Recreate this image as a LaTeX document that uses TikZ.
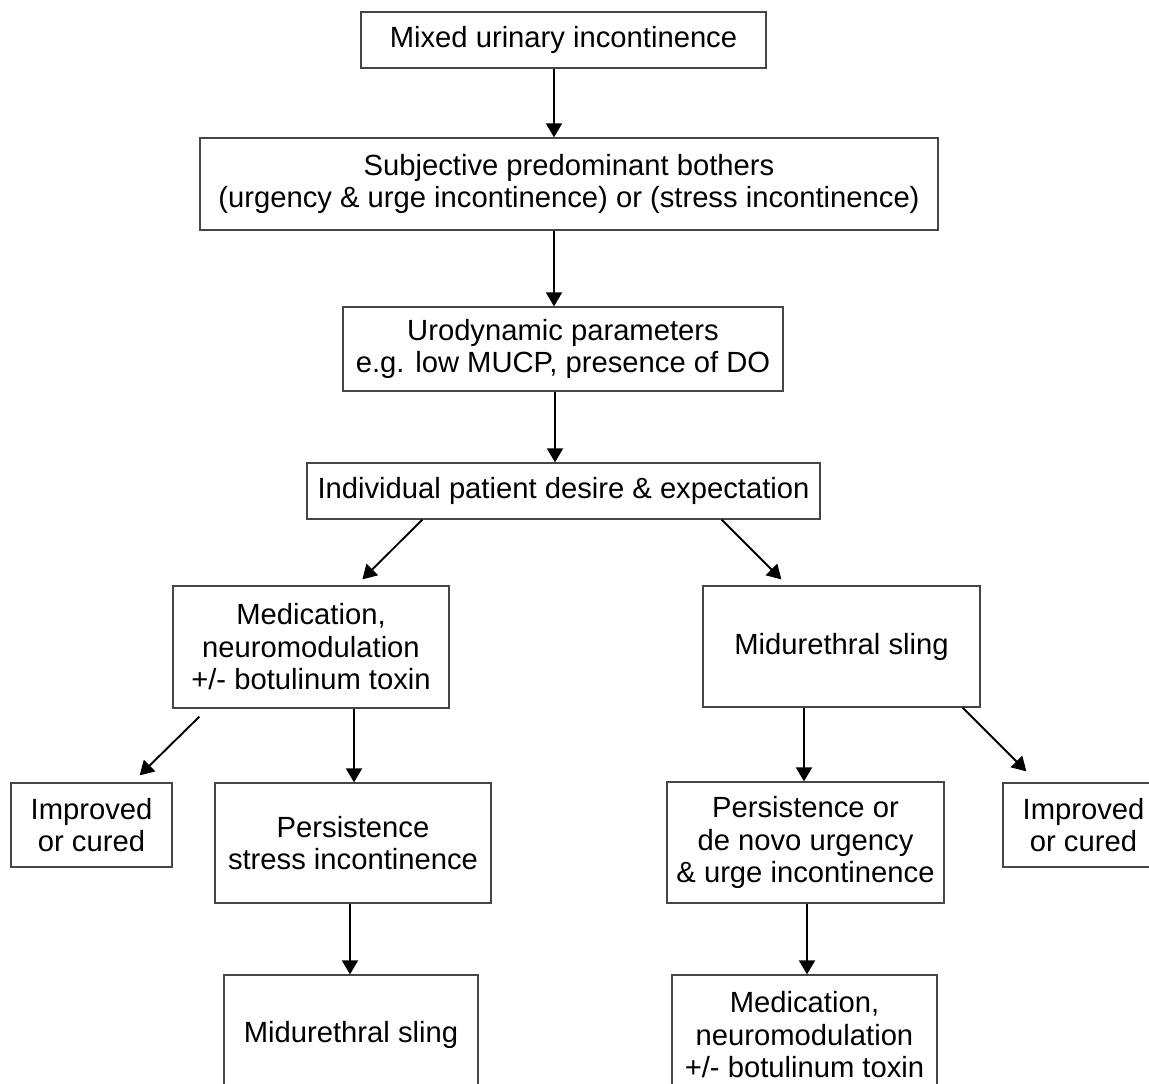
\documentclass[tikz,border=0pt]{standalone}
\usepackage{fontspec}
\setmainfont{Liberation Sans}
\usetikzlibrary{arrows.meta}
\definecolor{boxgray}{RGB}{70,70,70}

\begin{document}
\begin{tikzpicture}[x=1pt, y=-1pt,
    box/.style={draw=boxgray, line width=1.3pt, align=center, inner sep=0pt,
        font=\fontsize{29.2}{32.5}\selectfont},
    arr/.style={-{Triangle[length=14pt, width=16pt]}, line width=1.9pt}]
    \clip (0,0) rectangle (1149,1084);
    % main column
    \node[box, minimum width=405, minimum height=56] (mix) at (563.5,40) {Mixed urinary incontinence};
    \node[box, minimum width=738, minimum height=92] (subj) at (569,184)
        {Subjective predominant bothers\\(urgency \& urge incontinence) or (stress incontinence)};
    \node[box, minimum width=440, minimum height=84] (uro) at (563,349)
        {Urodynamic parameters\\e.g. low MUCP, presence of DO};
    \node[box, minimum width=513, minimum height=56] (ind) at (563.5,491)
        {Individual patient desire \& expectation};
    % left branch
    \node[box, minimum width=276, minimum height=122] (medL) at (311,647)
        {Medication,\\neuromodulation\\+/- botulinum toxin};
    \node[box, minimum width=161, minimum height=84] (impL) at (91.5,825) {Improved\\or cured};
    \node[box, minimum width=276, minimum height=120] (persS) at (353,843)
        {Persistence\\stress incontinence};
    \node[box, minimum width=254, minimum height=120] (slingB) at (351,1035) {Midurethral sling};
    % right branch
    \node[box, minimum width=277, minimum height=121] (slingR) at (841.5,646.5) {Midurethral sling};
    \node[box, minimum width=277, minimum height=121] (persD) at (805.5,842.5)
        {Persistence or\\de novo urgency\\\& urge incontinence};
    \node[box, minimum width=161, minimum height=84] (impR) at (1083.5,825) {Improved\\or cured};
    \node[box, minimum width=265, minimum height=120] (medB) at (804.5,1035)
        {Medication,\\neuromodulation\\+/- botulinum toxin};

    \draw[arr] ([xshift=-9.5]mix.south) -- ([xshift=-15]subj.north);
    \draw[arr] ([xshift=-15]subj.south) -- ([xshift=-9]uro.north);
    \draw[arr] ([xshift=-8]uro.south) -- ([xshift=-8.5]ind.north);
    \draw[arr] ([xshift=116]ind.south west) -- ([xshift=190, yshift=6]medL.north west);
    \draw[arr] ([xshift=-99]ind.south east) -- ([xshift=79, yshift=6]slingR.north west);
    \draw[arr] ([xshift=27, yshift=-8]medL.south west) -- ([xshift=-33, yshift=7]impL.north east);
    \draw[arr] ([xshift=43]medL.south) -- ([xshift=1]persS.north);
    \draw[arr] ([xshift=-3]persS.south) -- ([xshift=-1]slingB.north);
    \draw[arr] ([xshift=-37.5]slingR.south) -- ([xshift=-1.5]persD.north);
    \draw[arr] ([xshift=-18]slingR.south east) -- ([xshift=24, yshift=11]impR.north west);
    \draw[arr] ([xshift=1.5]persD.south) -- ([xshift=2.5]medB.north);
\end{tikzpicture}
\end{document}
